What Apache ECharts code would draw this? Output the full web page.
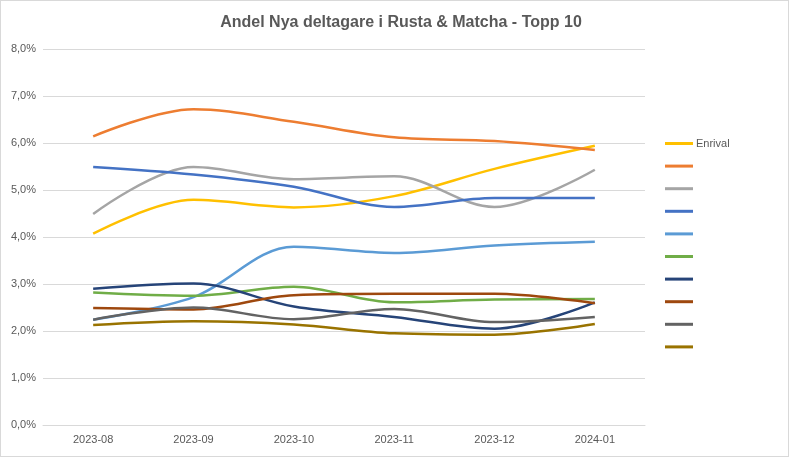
<!DOCTYPE html>
<html><head><meta charset="utf-8">
<script src="https://cdn.jsdelivr.net/npm/echarts@6/dist/echarts.min.js"></script>
<style>html,body{margin:0;padding:0;background:#fff}#c{width:789px;height:457px;box-sizing:border-box;border:1px solid #d9d9d9}</style>
</head><body><div id="c"></div>
<script>
const categories = ['2023-08','2023-09','2023-10','2023-11','2023-12','2024-01'];
const seriesNames = ['Enrival','S2','S3','S4','S5','S6','S7','S8','S9','S10'];
const enrival = [4.07, 4.79, 4.63, 4.87, 5.45, 5.94];
const s2 = [6.14, 6.72, 6.45, 6.12, 6.04, 5.85];
const s3 = [4.49, 5.49, 5.23, 5.29, 4.64, 5.43];
const s4 = [5.49, 5.33, 5.07, 4.64, 4.83, 4.83];
const s5 = [2.24, 2.72, 3.79, 3.66, 3.82, 3.90];
const s6 = [2.82, 2.75, 2.94, 2.61, 2.67, 2.68];
const s7 = [2.90, 3.01, 2.52, 2.30, 2.05, 2.61];
const s8 = [2.49, 2.46, 2.76, 2.79, 2.79, 2.59];
const s9 = [2.24, 2.50, 2.25, 2.47, 2.19, 2.30];
const s10 = [2.13, 2.21, 2.14, 1.95, 1.92, 2.15];
const colors = ['#FFC000','#ED7D31','#A5A5A5','#4472C4','#5B9BD5','#70AD47','#264478','#9E480E','#636363','#997300'];
const values = [enrival,s2,s3,s4,s5,s6,s7,s8,s9,s10];

const chart = echarts.init(document.getElementById('c'));
chart.setOption({
  animation:false,
  color: colors,
  title:{text:'Andel Nya deltagare i Rusta & Matcha - Topp 10',left:395,top:9,textAlign:'center',
    textStyle:{fontFamily:'Liberation Sans, Arial',fontSize:16,fontWeight:'bold',color:'#595959'}},
  grid:{left:42,right:143,top:48,bottom:31},
  legend:{orient:'vertical',left:659,top:131,itemWidth:28,itemHeight:3,itemGap:9.6,icon:'rect',
    data:seriesNames,
    formatter:n=>n==='Enrival'?n:' ',
    textStyle:{fontFamily:'Liberation Sans, Arial',fontSize:11,color:'#595959',padding:[0,0,0,-2],lineHeight:13,height:13}},
  xAxis:{type:'category',data:categories,boundaryGap:true,
    axisLine:{lineStyle:{color:'#d9d9d9'}},axisTick:{show:false},
    axisLabel:{fontFamily:'Liberation Sans, Arial',fontSize:11,color:'#595959',margin:9}},
  yAxis:{type:'value',min:0,max:8,interval:1,
    axisLabel:{fontFamily:'Liberation Sans, Arial',fontSize:11,color:'#595959',margin:7,
      formatter:v=>v.toFixed(1).replace('.',',')+'%'},
    splitLine:{lineStyle:{color:'#d9d9d9'}},axisLine:{show:false},axisTick:{show:false}},
  series: values.map((d,i)=>({name:seriesNames[i],type:'line',data:d,smooth:0.35,showSymbol:false,symbol:'none',
    lineStyle:{width:2.5,color:colors[i]}}))
});
</script></body></html>
